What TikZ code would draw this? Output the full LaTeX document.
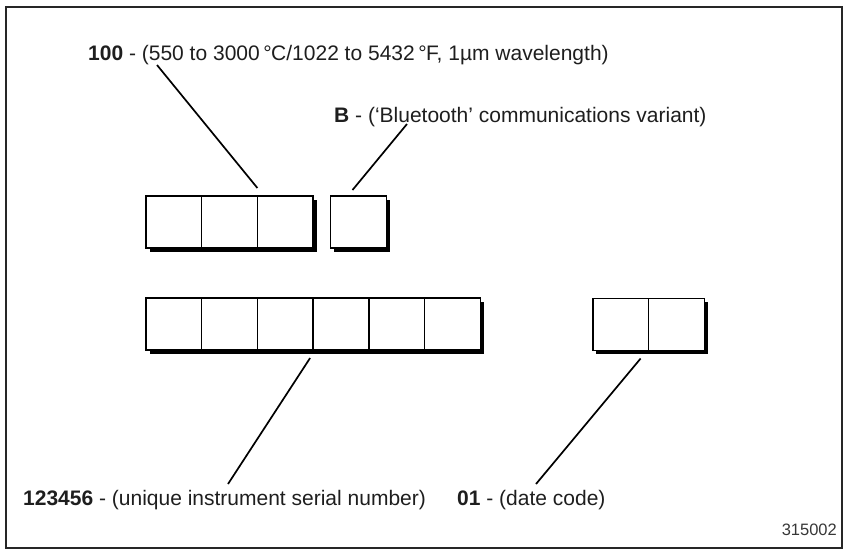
\documentclass[tikz,border=0pt]{standalone}
\usepackage{fontspec}
\setmainfont{Liberation Sans}
\usetikzlibrary{positioning,shadows}
\definecolor{framegray}{RGB}{38,38,38}
\definecolor{labelgray}{RGB}{30,30,30}
\definecolor{fignogray}{RGB}{55,55,55}
\tikzset{
    % digit cells of the serial plate
    cellbox/.style={
        rectangle, draw=black, line width=1.4pt, fill=white,
        minimum width=55.7pt, minimum height=52pt,
        inner sep=0pt, outer sep=0pt,
        drop shadow={shadow xshift=3.5pt, shadow yshift=-3.5pt, fill=black, opacity=1}
    },
    desc/.style={
        inner sep=0pt, anchor=base west, text=labelgray,
        font=\fontsize{21}{25}\selectfont
    },
    figno/.style={
        inner sep=0pt, anchor=base east, text=fignogray,
        font=\fontsize{16.5}{19}\selectfont
    },
    leader/.style={
        draw=black, line width=1.7pt
    }
}
\begin{document}
\begin{tikzpicture}[x=1pt, y=-1pt]
\useasboundingbox (0,0) rectangle (850,550);
\draw[framegray, line width=2pt] (6,7) rectangle (842,548);

% cells
\node[cellbox] (rng1) at (173.85,222) {};
\foreach \i [count=\j from 2] in {1,2}
    \node[cellbox, right=0pt of rng\i] (rng\j) {};
\node[cellbox] (var1) at (358.5,222) {};
\node[cellbox] (ser1) at (173.85,324) {};
\foreach \i [count=\j from 2] in {1,...,5}
    \node[cellbox, right=0pt of ser\i] (ser\j) {};
\node[cellbox] (dat1) at (620.75,324.5) {};
\node[cellbox, right=0pt of dat1] (dat2) {};

% descriptions
\node[desc] (rngtxt) at (88,60) {\textbf{100} - (550 to 3000\,°\kern-0.5pt C/1022 to 5432\,°\kern-0.5pt F, 1µm wavelength)};
\node[desc] (vartxt) at (334,122) {\textbf{B} - (‘Bluetooth’ communications variant)};
\node[desc] (sertxt) at (23,505) {\textbf{123456} - (unique instrument serial number)};
\node[desc] (dattxt) at (457,505) {\textbf{01} - (date code)};
\node[figno] (fignum) at (837,535) {315002};

\coordinate (rngtip) at (157,65);
\coordinate (vartip) at (407,124);
\coordinate (sertip) at (228,484);
\coordinate (dattip) at (536,484);

\draw[leader] (rngtip) -- ([yshift=8pt]rng3.north west);
\draw[leader] (vartip) -- ([xshift=-6pt, yshift=6pt]var1.north);
\draw[leader] (sertip) -- ([xshift=-3pt, yshift=-8pt]ser4.south west);
\draw[leader] (dattip) -- ([xshift=-8pt, yshift=-8pt]dat2.south west);

\end{tikzpicture}
\end{document}
